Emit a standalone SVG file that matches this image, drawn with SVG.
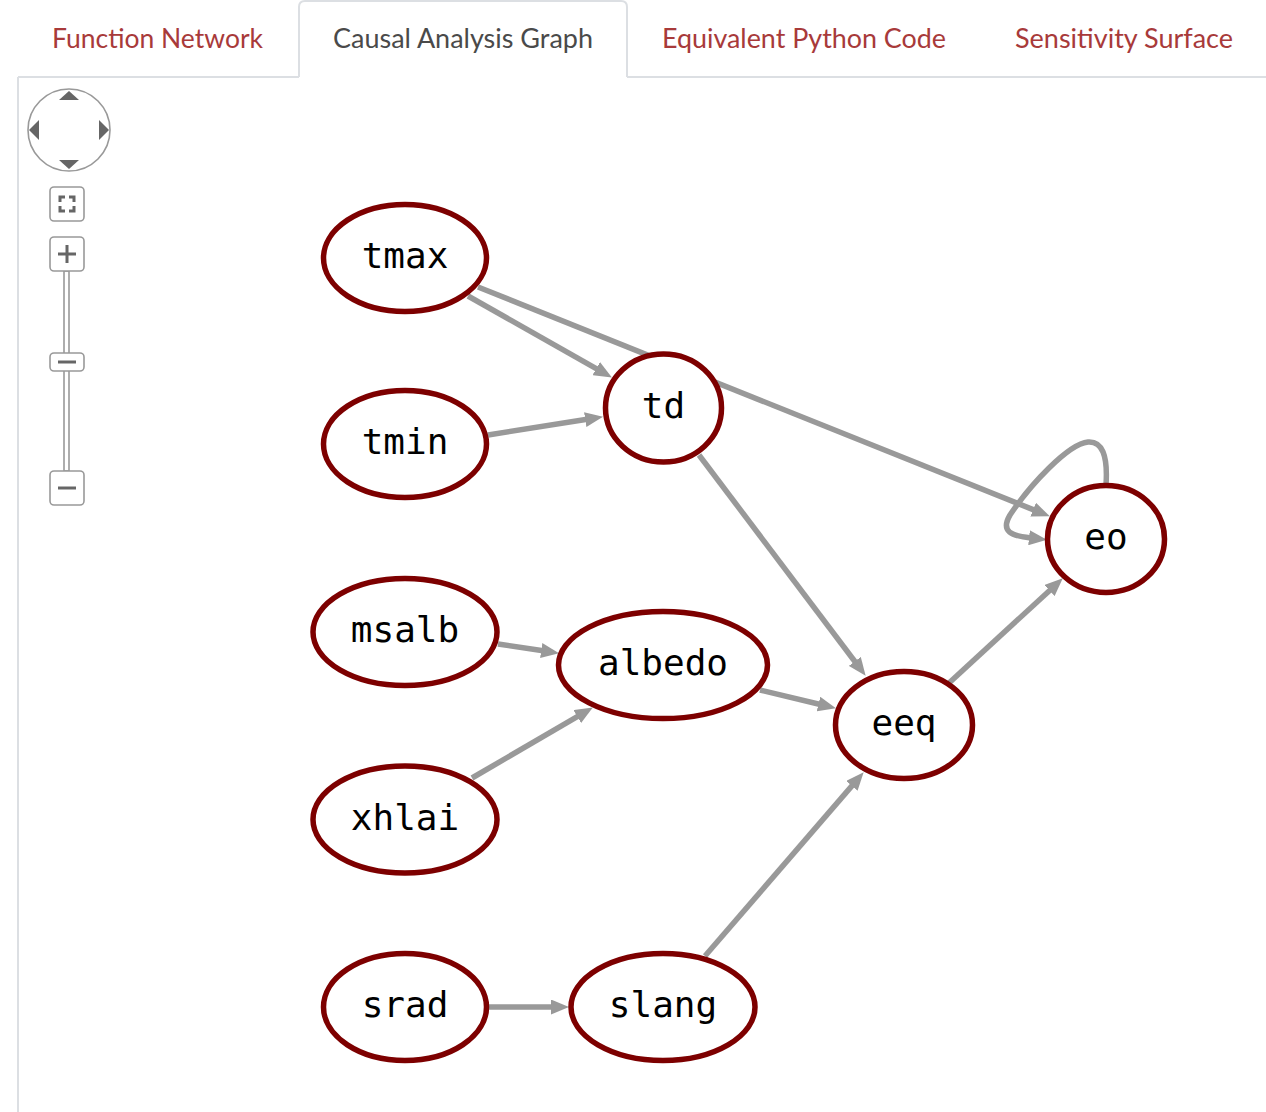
<svg xmlns="http://www.w3.org/2000/svg" width="1266" height="1112" viewBox="0 0 1266 1112">
<style>
.tab{font-family:"Lato","Open Sans","Liberation Sans",sans-serif;font-size:27px;fill:#a83a3a}
.tab.active{fill:#4a4a4a}
.border{fill:none;stroke:#dcdfe3;stroke-width:2}
.node ellipse{fill:#fff;stroke:#7d0000;stroke-width:5.5}
.node text{font-family:"DejaVu Sans Mono","Liberation Mono",monospace;font-size:36px;fill:#000;text-anchor:middle}
.edge{fill:none;stroke:#999;stroke-width:5.5;marker-end:url(#arrow)}
.ctl{fill:#fff;stroke:#999;stroke-width:1.6}
.glyph{fill:none;stroke:#666;stroke-width:3}
.tri{fill:#666}
</style>
<defs>
<marker id="arrow" markerUnits="userSpaceOnUse" markerWidth="19" markerHeight="15" refX="2" refY="7.5" orient="auto">
<path d="M0,0 L18,7.5 L0,15 z" fill="#999"/>
</marker>
</defs>
<rect width="1266" height="1112" fill="#fff"/>
<g id="tabs">
<path class="border" d="M18,77 H299 M627,77 H1266 M18,77 V1112"/>
<path class="border" d="M299,77 V7 Q299,1 305,1 H621 Q627,1 627,7 V77"/>
<text class="tab" x="52" y="48" textLength="211" lengthAdjust="spacingAndGlyphs">Function Network</text>
<text class="tab active" x="333" y="48" textLength="260" lengthAdjust="spacingAndGlyphs">Causal Analysis Graph</text>
<text class="tab" x="662" y="48" textLength="284" lengthAdjust="spacingAndGlyphs">Equivalent Python Code</text>
<text class="tab" x="1015" y="48" textLength="218" lengthAdjust="spacingAndGlyphs">Sensitivity Surface</text>
</g>
<g id="navigation">
<circle class="ctl" cx="69" cy="130" r="41"/>
<path class="tri" d="M59,100 L79,100 L69,91 z"/>
<path class="tri" d="M59,160 L79,160 L69,169 z"/>
<path class="tri" d="M39,120 L39,140 L29,130 z"/>
<path class="tri" d="M99,120 L99,140 L109,130 z"/>
<rect class="ctl" x="50" y="187" width="34" height="34" rx="4"/>
<path class="glyph" stroke-width="2.5" d="M60,202 V197 H65 M69,197 H74 V202 M74,206 V211 H69 M65,211 H60 V206"/>
<rect class="ctl" x="64" y="271" width="5" height="200"/>
<rect class="ctl" x="50" y="237" width="34" height="34" rx="4"/>
<path class="glyph" d="M58,254 H76 M67,245 V263"/>
<rect class="ctl" x="50" y="353" width="34" height="18" rx="4"/>
<path class="glyph" d="M58,362 H76"/>
<rect class="ctl" x="50" y="471" width="34" height="34" rx="4"/>
<path class="glyph" d="M58,488 H76"/>
</g>
<g id="connectors">
<path class="edge" d="M468,296 L598,369.6"/>
<path class="edge" d="M478,287 L1035,510.4"/>
<path class="edge" d="M488,435 L587.2,419.3"/>
<path class="edge" d="M699,455 L856,663"/>
<path class="edge" d="M760,690 L820.4,704.5"/>
<path class="edge" d="M949,683 L1051,589.2"/>
<path class="edge" d="M498,644 L543.2,650.8"/>
<path class="edge" d="M472,778 L579,715.6"/>
<path class="edge" d="M705,956 L853.2,784.4"/>
<path class="edge" d="M488,1007 L553,1007"/>
<path class="edge" d="M1106,485 C1108,455 1102,441 1088,442 C1068,444 1030,485 1010,515 C1000,532 1012,536 1031,538"/>
</g>
<g id="node-tmax" class="node"><ellipse cx="405" cy="258" rx="81.5" ry="53.5"/><text x="405" y="268">tmax</text></g>
<g id="node-tmin" class="node"><ellipse cx="405" cy="444" rx="81.5" ry="53.5"/><text x="405" y="454">tmin</text></g>
<g id="node-td" class="node"><ellipse cx="663.5" cy="408" rx="58" ry="54"/><text x="663.5" y="418">td</text></g>
<g id="node-eo" class="node"><ellipse cx="1106" cy="539" rx="58.5" ry="53.5"/><text x="1106" y="549">eo</text></g>
<g id="node-msalb" class="node"><ellipse cx="405" cy="632" rx="92" ry="53.5"/><text x="405" y="642">msalb</text></g>
<g id="node-albedo" class="node"><ellipse cx="663" cy="665" rx="104.5" ry="53.5"/><text x="663" y="675">albedo</text></g>
<g id="node-xhlai" class="node"><ellipse cx="405" cy="819.5" rx="92" ry="53.5"/><text x="405" y="829.5">xhlai</text></g>
<g id="node-eeq" class="node"><ellipse cx="904" cy="725" rx="68.5" ry="53.5"/><text x="904" y="735">eeq</text></g>
<g id="node-srad" class="node"><ellipse cx="405" cy="1007" rx="81.5" ry="53.5"/><text x="405" y="1017">srad</text></g>
<g id="node-slang" class="node"><ellipse cx="663" cy="1007" rx="92" ry="53.5"/><text x="663" y="1017">slang</text></g>
</svg>
